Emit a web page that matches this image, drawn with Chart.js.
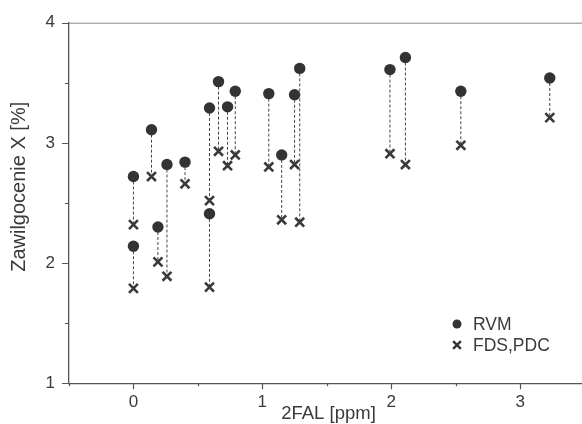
<!DOCTYPE html>
<html>
<head>
<meta charset="utf-8">
<script src="https://cdn.jsdelivr.net/npm/chart.js@4/dist/chart.umd.min.js"></script>
<style>
  html, body { margin: 0; padding: 0; background: #fff; overflow: hidden; }
  #wrap { width: 582px; height: 424px; position: relative; }
</style>
</head>
<body>
<div id="wrap"><canvas id="c" width="582" height="424"></canvas></div>
<script>
// 2FAL content of each transformer and its moisture estimates
const fal = [0, 0, 0.14, 0.19, 0.26, 0.40, 0.59, 0.59, 0.66, 0.73, 0.79, 1.05, 1.15, 1.25, 1.29, 1.99, 2.11, 2.54, 3.23];
const rvm = [2.72, 2.14, 3.11, 2.30, 2.82, 2.84, 3.29, 2.41, 3.51, 3.30, 3.43, 3.41, 2.90, 3.40, 3.62, 3.61, 3.71, 3.43, 3.54];
const fds = [2.32, 1.79, 2.72, 2.01, 1.89, 2.66, 2.52, 1.80, 2.93, 2.81, 2.90, 2.80, 2.36, 2.82, 2.34, 2.91, 2.82, 2.98, 3.21];

const seriesNames = ['RVM', 'FDS,PDC'];
const xTicks = [0, 1, 2, 3];
const yTicks = [1, 2, 3, 4];
const xTitle = '2FAL [ppm]';
const yTitle = 'Zawilgocenie X [%]';

const INK = '#333333';
const AXIS = '#555555';
const FONT = 'Arial, "Liberation Sans", Helvetica, sans-serif';

// dashed connectors: one segment per transformer, broken by null gaps
const connectors = fal.flatMap((x, i) => [{ x, y: rvm[i] }, { x, y: fds[i] }, { x, y: null }]);

// fixed scale boxes so the plot frame does not shift with label sizes
function fixBox(size, horizontal) {
  return function (s) {
    if (horizontal) s.height = size; else s.width = size;
    s.paddingLeft = 0; s.paddingRight = 0; s.paddingTop = 0; s.paddingBottom = 0;
  };
}

// axis frame, minor/major tick marks, axis titles and the legend box
const decorations = {
  id: 'decorations',
  beforeDatasetsDraw(chart) {
    const { ctx, chartArea: a, scales: { x, y } } = chart;
    ctx.save();
    // thin top frame line
    ctx.strokeStyle = '#8a8a8a';
    ctx.lineWidth = 1;
    ctx.beginPath();
    ctx.moveTo(a.left, a.top + 0.5);
    ctx.lineTo(a.right, a.top + 0.5);
    ctx.stroke();

    // tick marks every 0.5, longer on whole numbers
    ctx.strokeStyle = AXIS;
    ctx.lineWidth = 1.2;
    ctx.beginPath();
    for (let v = Math.ceil(x.min * 2) / 2; v <= x.max + 1e-9; v += 0.5) {
      const px = Math.round(x.getPixelForValue(v)) + 0.5;
      const len = Number.isInteger(v) ? 6 : 3;
      ctx.moveTo(px, a.bottom);
      ctx.lineTo(px, a.bottom + len);
    }
    for (let v = y.min; v <= y.max + 1e-9; v += 0.5) {
      const py = Math.round(y.getPixelForValue(v)) + 0.5;
      const len = Number.isInteger(v) ? 7 : 4;
      ctx.moveTo(a.left, py);
      ctx.lineTo(a.left - len, py);
    }
    ctx.stroke();
    ctx.restore();
  },
  afterDraw(chart) {
    const { ctx, chartArea: a } = chart;
    ctx.save();
    ctx.fillStyle = '#3a3a3a';
    ctx.textBaseline = 'middle';
    ctx.textAlign = 'center';

    // axis titles
    ctx.font = '18.5px ' + FONT;
    ctx.fillText(xTitle, (a.left + a.right) / 2 + 3, 414);
    ctx.save();
    ctx.translate(19, a.top + (a.bottom - a.top) * 0.455);
    ctx.rotate(-Math.PI / 2);
    ctx.font = '20px ' + FONT;
    ctx.fillText(yTitle, 0, 0);
    ctx.restore();

    // legend
    const items = [
      { label: seriesNames[0], style: 'circle', radius: 4.5, bw: 0, y: 324 },
      { label: seriesNames[1], style: 'crossRot', radius: 5.5, bw: 2.4, y: 345 }
    ];
    ctx.textAlign = 'left';
    ctx.font = '17.5px ' + FONT;
    items.forEach(it => {
      ctx.fillStyle = INK;
      ctx.strokeStyle = INK;
      ctx.lineWidth = it.bw;
      Chart.helpers.drawPoint(ctx, { pointStyle: it.style, radius: it.radius, borderWidth: it.bw, rotation: 0 }, 457, it.y);
      ctx.fillStyle = '#3a3a3a';
      ctx.fillText(it.label, 473, it.y + 1);
    });
    ctx.restore();
  }
};

new Chart(document.getElementById('c'), {
  type: 'scatter',
  data: {
    datasets: [
      {
        label: seriesNames[0],
        data: fal.map((x, i) => ({ x, y: rvm[i] })),
        pointStyle: 'circle',
        pointRadius: 5.7,
        backgroundColor: INK,
        borderColor: INK,
        borderWidth: 0
      },
      {
        label: seriesNames[1],
        data: fal.map((x, i) => ({ x, y: fds[i] })),
        pointStyle: 'crossRot',
        pointRadius: 6.3,
        backgroundColor: INK,
        borderColor: '#3a3a3a',
        borderWidth: 2.6
      },
      {
        label: 'connector',
        data: connectors,
        showLine: true,
        spanGaps: false,
        pointRadius: 0,
        borderColor: '#444444',
        borderWidth: 1,
        borderDash: [3, 2]
      }
    ]
  },
  options: {
    responsive: false,
    animation: false,
    layout: { autoPadding: false, padding: { top: 22.7, right: 0, bottom: 0, left: 0 } },
    plugins: {
      legend: { display: false },
      tooltip: { enabled: false }
    },
    scales: {
      x: {
        type: 'linear',
        min: -0.5,
        max: 3.48,
        afterFit: fixBox(40.7, true),
        afterBuildTicks(s) { s.ticks = xTicks.map(v => ({ value: v })); },
        grid: { display: false, drawTicks: false },
        border: { display: true, color: AXIS, width: 1.3 },
        ticks: { padding: 9, color: '#3a3a3a', font: { family: FONT, size: 17 } }
      },
      y: {
        type: 'linear',
        min: 1,
        max: 4,
        afterFit: fixBox(69, false),
        afterBuildTicks(s) { s.ticks = yTicks.map(v => ({ value: v })); },
        grid: { display: false, drawTicks: false },
        border: { display: true, color: AXIS, width: 1.3 },
        ticks: { padding: 14, color: '#3a3a3a', font: { family: FONT, size: 17 } }
      }
    }
  },
  plugins: [decorations]
});
</script>
</body>
</html>
